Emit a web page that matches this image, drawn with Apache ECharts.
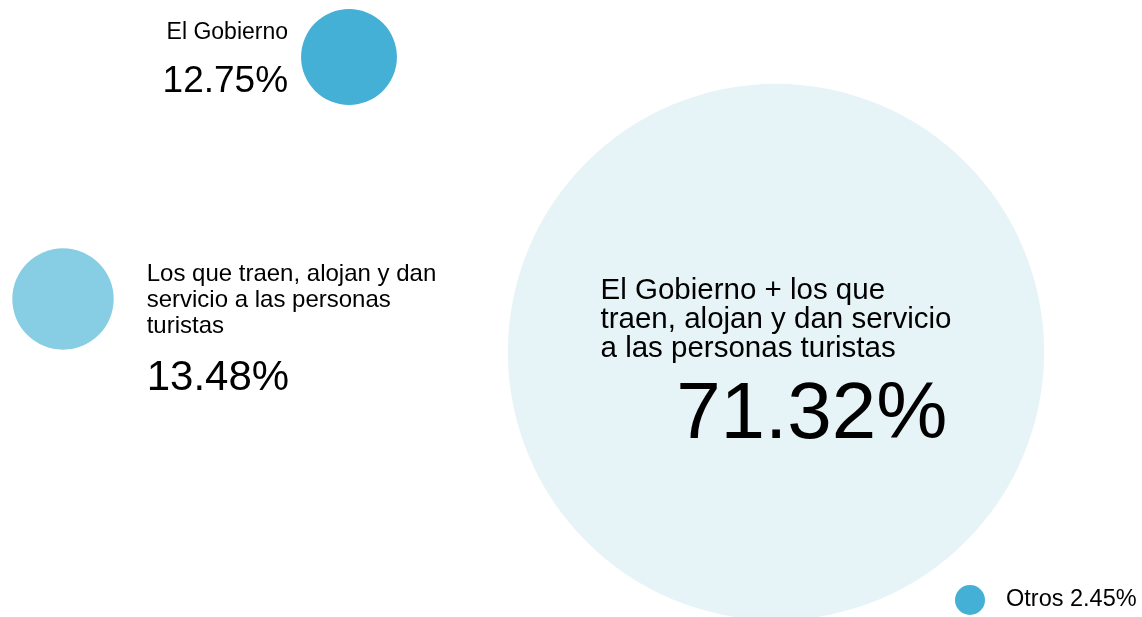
<!DOCTYPE html>
<html>
<head>
<meta charset="utf-8">
<script src="https://cdn.jsdelivr.net/npm/echarts@6/dist/echarts.min.js"></script>
<style>
  html, body { margin: 0; padding: 0; background: #fff; }
  #main { width: 1142px; height: 617px; }
</style>
</head>
<body>
<div id="main"></div>
<script>
// categories (line breaks as in the picture) and their shares in %
const categories = [
  'El Gobierno',
  'Los que traen, alojan y dan\nservicio a las personas\nturistas',
  'El Gobierno + los que\ntraen, alojan y dan servicio\na las personas turistas',
  'Otros'
];
const shares = [12.75, 13.48, 71.32, 2.45];

// layout only: bubble centres in page pixels, colours, label placement
const centers = [[349, 57], [63, 299], [776, 352], [970, 600]];
const colors = ['#45b0d6', '#87cde4', '#e6f4f7', '#45b0d6'];

const font = '"Liberation Sans", Helvetica, Arial, sans-serif';
const ink = '#000';

function bubbleSize(v) {
  return Math.max(30, v * 7.52);
}

const labels = [
  {
    position: 'left', distance: 13, offset: [0, 12],
    formatter: p => '{n|' + p.data.name + '}\n{p|' + p.data.share.toFixed(2) + '%}',
    rich: {
      n: { fontSize: 23, lineHeight: 26, color: ink, fontFamily: font },
      p: { fontSize: 37, lineHeight: 72, color: ink, fontFamily: font }
    }
  },
  {
    position: 'right', distance: 33, offset: [0, 40], align: 'left',
    formatter: p => p.data.name.split('\n').map(s => '{n|' + s + '}').join('\n') +
      '\n{p|' + p.data.share.toFixed(2) + '%}',
    rich: {
      n: { fontSize: 24, lineHeight: 26, color: ink, fontFamily: font },
      p: { fontSize: 42, lineHeight: 78, color: ink, fontFamily: font }
    }
  },
  {
    position: 'inside', offset: [0, 20],
    formatter: p => p.data.name.split('\n').map(s => '{n|' + s + '}').join('\n') +
      '\n{p|' + p.data.share.toFixed(2) + '%}',
    rich: {
      n: { fontSize: 29.5, lineHeight: 29, color: ink, fontFamily: font, align: 'left' },
      p: { fontSize: 80, lineHeight: 105, color: ink, fontFamily: font, align: 'right', padding: [0, 4, 0, 0] }
    }
  },
  {
    position: 'right', distance: 21,
    formatter: p => p.data.name + ' ' + p.data.share.toFixed(2) + '%',
    fontSize: 23.5, color: ink, fontFamily: font
  }
];

const data = categories.map((c, i) => ({
  name: c,
  share: shares[i],
  value: centers[i].concat(shares[i]),
  itemStyle: { color: colors[i], opacity: 1 },
  label: Object.assign({ show: true, color: ink }, labels[i])
}));

const chart = echarts.init(document.getElementById('main'));
chart.setOption({
  backgroundColor: '#fff',
  animation: false,
  grid: { left: 0, right: 0, top: 0, bottom: 0 },
  xAxis: { type: 'value', min: 0, max: 1142, show: false },
  yAxis: { type: 'value', min: 0, max: 617, inverse: true, show: false },
  series: [{
    type: 'scatter',
    symbol: 'circle',
    symbolSize: v => bubbleSize(v[2]),
    itemStyle: { opacity: 1 },
    data: data
  }]
});
</script>
</body>
</html>
